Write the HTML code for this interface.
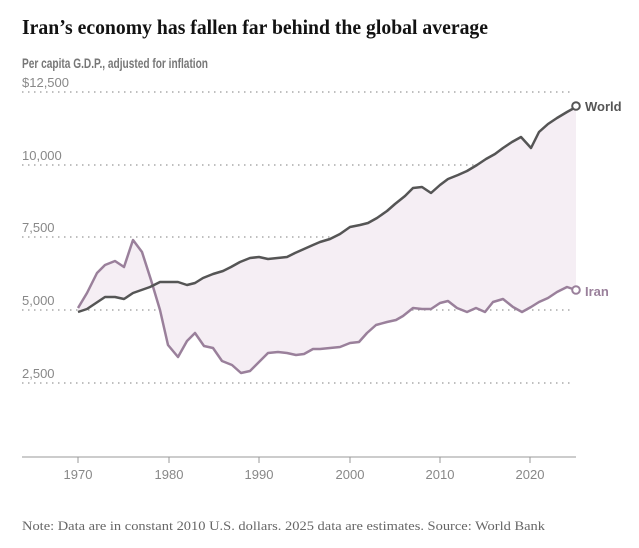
<!DOCTYPE html>
<html><head><meta charset="utf-8"><style>body{margin:0;background:#fff}svg{display:block}</style></head>
<body>
<svg width="639" height="548" viewBox="0 0 639 548" xmlns="http://www.w3.org/2000/svg">
<text x="22" y="34" font-family="Liberation Serif, serif" font-weight="bold" font-size="21" fill="#121212" textLength="466" lengthAdjust="spacingAndGlyphs">Iran’s economy has fallen far behind the global average</text>
<text x="22" y="68" font-family="Liberation Sans, sans-serif" font-weight="bold" font-size="14" fill="#777" textLength="186" lengthAdjust="spacingAndGlyphs">Per capita G.D.P., adjusted for inflation</text>
<g font-family="Liberation Sans, sans-serif" font-size="13" fill="#888">
<text x="22" y="87">$12,500</text>
<text x="22" y="160">10,000</text>
<text x="22" y="232">7,500</text>
<text x="22" y="305">5,000</text>
<text x="22" y="378">2,500</text>
</g>
<g stroke="#999" stroke-width="1.3" stroke-dasharray="1.5 4.5">
<line x1="22" y1="92" x2="572" y2="92"/>
<line x1="22" y1="165" x2="572" y2="165"/>
<line x1="22" y1="237" x2="572" y2="237"/>
<line x1="22" y1="310" x2="572" y2="310"/>
<line x1="22" y1="383" x2="572" y2="383"/>
</g>
<polygon fill="#f5eef4" points="78,312 87,309 105,297 115,297 124,299 133,293 150,287 160,282 178,282 187,285 195,283 203,278 213,274 223,271 231,267 240,262 250,258 259,257 268,259 287,257 295,253 304,249 313,245 320,242 330,239 340,234 350,227 360,225 368,223 377,218 387,211 395,204 405,196 413,188 422,187 431,193 440,185 448,179 458,175 467,171 477,165 486,159 495,154 503,148 512,142 521,137 531,148 539,132 548,124 557,118 567,112 576,107 576,290 567,287 557,292 548,298 539,302 531,307 522,312 513,307 503,299 493,302 485,312 476,308 467,312 457,308 448,301 440,303 431,309 422,309 413,308 403,316 396,320 387,322 376,325 367,333 359,342 350,343 340,347 320,349 313,349 304,354 296,355 287,353 278,352 268,353 259,362 250,371 241,373 232,365 222,361 213,348 204,346 195,333 187,341 178,357 168,345 160,310 151,280 142,252 133,240 124,267 115,261 105,265 97,273 87,293 78,308"/>
<polyline fill="none" stroke="#9a809b" stroke-width="2.5" stroke-linejoin="round" points="78,308 87,293 97,273 105,265 115,261 124,267 133,240 142,252 151,280 160,310 168,345 178,357 187,341 195,333 204,346 213,348 222,361 232,365 241,373 250,371 259,362 268,353 278,352 287,353 296,355 304,354 313,349 320,349 340,347 350,343 359,342 367,333 376,325 387,322 396,320 403,316 413,308 422,309 431,309 440,303 448,301 457,308 467,312 476,308 485,312 493,302 503,299 513,307 522,312 531,307 539,302 548,298 557,292 567,287 576,290"/>
<polyline fill="none" stroke="#555" stroke-width="2.5" stroke-linejoin="round" points="78,312 87,309 105,297 115,297 124,299 133,293 150,287 160,282 178,282 187,285 195,283 203,278 213,274 223,271 231,267 240,262 250,258 259,257 268,259 287,257 295,253 304,249 313,245 320,242 330,239 340,234 350,227 360,225 368,223 377,218 387,211 395,204 405,196 413,188 422,187 431,193 440,185 448,179 458,175 467,171 477,165 486,159 495,154 503,148 512,142 521,137 531,148 539,132 548,124 557,118 567,112 576,107"/>
<circle cx="576" cy="106" r="3.8" fill="#fff" stroke="#555" stroke-width="2"/>
<circle cx="576" cy="290" r="3.8" fill="#fff" stroke="#9a809b" stroke-width="2"/>
<text x="585" y="111" font-family="Liberation Sans, sans-serif" font-weight="bold" font-size="13" fill="#555">World</text>
<text x="585" y="296" font-family="Liberation Sans, sans-serif" font-weight="bold" font-size="13" fill="#9a809b">Iran</text>
<line x1="22" y1="457" x2="576" y2="457" stroke="#999" stroke-width="1"/>
<g stroke="#999" stroke-width="1">
<line x1="78" y1="457" x2="78" y2="463"/><line x1="169" y1="457" x2="169" y2="463"/><line x1="259" y1="457" x2="259" y2="463"/><line x1="350" y1="457" x2="350" y2="463"/><line x1="440" y1="457" x2="440" y2="463"/><line x1="530" y1="457" x2="530" y2="463"/>
</g>
<g font-family="Liberation Sans, sans-serif" font-size="13" fill="#888" text-anchor="middle">
<text x="78" y="479">1970</text><text x="169" y="479">1980</text><text x="259" y="479">1990</text><text x="350" y="479">2000</text><text x="440" y="479">2010</text><text x="530" y="479">2020</text>
</g>
<text x="22" y="530" font-family="Liberation Serif, serif" font-size="13" fill="#666" textLength="523" lengthAdjust="spacingAndGlyphs">Note:  Data are in constant 2010 U.S. dollars. 2025 data are estimates.  Source: World Bank</text>
</svg>
</body></html>
